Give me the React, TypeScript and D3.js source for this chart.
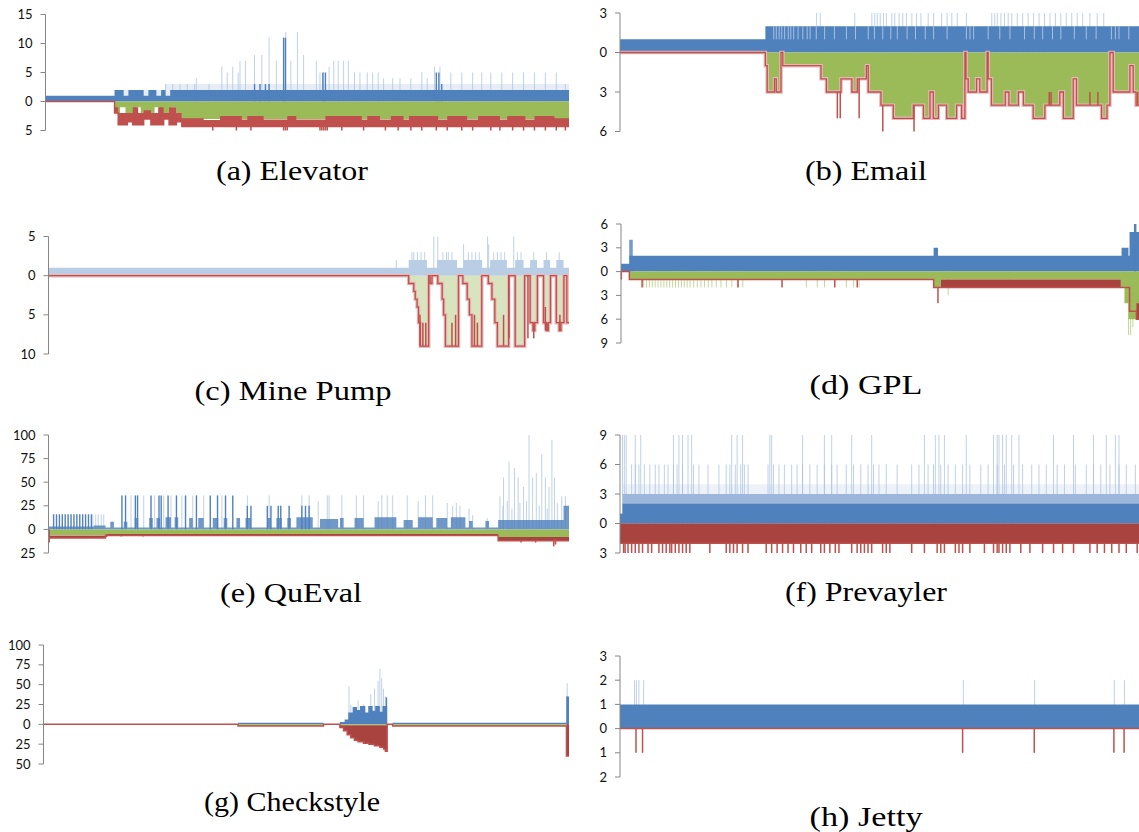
import React from "react";
import * as d3 from "d3";

type Step = [number, number][];
type Band = [number, number, number][];

// x positions are execution steps along each run, y values are counts
// (negative side is drawn downward and labelled with its absolute value)

// (a) Elevator
const elevatorSteps = 1440;
const elevatorTicks = [15, 10, 5, 0, -5];
const elevatorBlue: Step = [[0, 1], [190, 2], [215, 1], [228, 2], [270, 1], [283, 2], [305, 1], [318, 2], [330, 1], [343, 2]];
const elevatorHaze: Step = [[0, 0], [190, 2], [330, 3]];
const elevatorLight: Step = [[330, 3], [350, 3], [370, 3], [390, 3], [410, 3], [415, 4], [450, 3], [485, 6], [500, 5], [515, 6], [530, 5], [535, 7], [550, 7], [575, 8], [595, 8], [615, 11], [635, 7], [655, 11], [661, 12], [675, 7], [693, 12], [710, 8], [745, 7], [755, 5], [765, 5], [780, 6], [793, 7], [805, 7], [820, 7], [833, 7], [850, 5], [865, 5], [885, 5], [900, 5], [915, 5], [930, 4], [955, 4], [975, 4], [1005, 4], [1035, 5], [1050, 4], [1070, 6], [1085, 6], [1115, 5], [1145, 5], [1175, 5], [1200, 5], [1225, 5], [1255, 5], [1285, 5], [1315, 5], [1345, 5], [1375, 5], [1405, 5], [1430, 3]];
const elevatorMid: Step = [[575, 3], [590, 3], [605, 3], [615, 3], [655, 11], [660, 11], [763, 5], [770, 5], [1075, 5], [1082, 5], [1090, 3]];
const elevatorGreen: Step = [[0, 0], [190, 2], [205, 1], [220, 2], [250, 1], [262, 2], [300, 1], [312, 2], [345, 1], [360, 2], [375, 3]];
const elevatorRed: Band = [[0, 0, 0], [190, 1, 2], [200, 2, 4], [225, 2, 3.5], [240, 1, 4], [255, 2, 4], [270, 1.5, 3], [290, 2, 4], [310, 1, 4], [325, 2, 3], [340, 1, 4], [360, 2, 3.5], [375, 2.9, 4.3], [435, 3.2, 4.3], [480, 2.5, 4.3], [540, 3.1, 4.3], [555, 2.5, 4.3], [600, 3.1, 4.3], [665, 2.5, 4.3], [690, 3.1, 4.3], [770, 2.5, 4.3], [870, 3.1, 4.3], [885, 2.5, 4.3], [920, 3.1, 4.3], [950, 2.5, 4.3], [985, 3.1, 4.3], [1000, 2.5, 4.3], [1080, 3.1, 4.3], [1105, 2.5, 4.3], [1160, 3.1, 4.3], [1190, 2.5, 4.3], [1250, 3.1, 4.3], [1270, 2.5, 4.3], [1320, 3.1, 4.3], [1345, 2.5, 4.3], [1400, 2.9, 4.3]];
const elevatorRedSpikes: Band = [[460, 4, 5], [525, 4, 5], [565, 4, 5], [655, 4, 5], [660, 4, 5], [665, 4, 5], [755, 4, 5], [760, 4, 5], [765, 4, 5], [770, 4, 5], [775, 4, 5], [815, 4, 5], [875, 4, 5], [935, 4, 5], [970, 4, 5], [1005, 4, 5], [1035, 4, 5], [1075, 4, 5], [1105, 4, 5], [1145, 4, 5], [1175, 4, 5], [1225, 4, 5], [1250, 4, 5], [1285, 4, 5], [1315, 4, 5], [1345, 4, 5], [1375, 4, 5], [1405, 4, 5], [1430, 4, 5]];

// (b) Email
const emailSteps = 1428;
const emailTicks = [3, 0, -3, -6];
const emailBlue: Step = [[0, 1], [400, 2]];
const emailLight: Step = [[541, 3], [551, 3], [646, 3], [693, 3], [701, 3], [708, 3], [716, 3], [725, 3], [733, 3], [748, 3], [756, 3], [768, 3], [778, 3], [788, 3], [803, 3], [816, 3], [828, 3], [848, 3], [863, 3], [885, 3], [900, 3], [913, 3], [928, 3], [953, 3], [1023, 3], [1031, 3], [1038, 3], [1048, 3], [1058, 3], [1068, 3], [1078, 3], [1093, 3], [1108, 3], [1123, 3], [1138, 3], [1153, 3], [1168, 3], [1183, 3], [1198, 3], [1213, 3], [1228, 3], [1243, 3], [1258, 3], [1273, 3], [1293, 3], [1313, 3], [1331, 3]];
const emailGaps = [423, 430, 438, 445, 453, 463, 470, 478, 490, 503, 515, 523, 540, 563, 590, 623, 648, 683, 700, 723, 745, 763, 790, 813, 840, 863, 900, 953, 963, 973, 1013, 1045, 1073, 1113, 1140, 1163, 1190, 1213, 1250, 1283, 1310, 1352, 1363, 1373, 1400];
const emailDepth: Step = [[0, 0], [400, 1], [405, 3], [425, 2], [430, 3], [443, 0], [448, 1], [553, 2], [568, 3], [608, 2], [638, 3], [653, 2], [678, 1], [683, 3], [718, 4], [752, 5], [807, 4], [835, 5], [853, 3], [862, 5], [876, 4], [899, 5], [926, 4], [940, 5], [949, 0], [952, 2], [958, 3], [981, 2], [990, 3], [1010, 0], [1013, 2], [1022, 4], [1060, 3], [1070, 4], [1096, 3], [1110, 4], [1137, 5], [1169, 4], [1210, 3], [1220, 5], [1247, 2], [1256, 4], [1325, 5], [1340, 4], [1348, 0], [1357, 3], [1403, 1], [1412, 3], [1420, 4]];
const emailRedSpikes: Band = [[598, 3, 5], [606, 3, 5], [658, 2, 5], [723, 4, 6], [809, 4, 6], [1181, 3, 4], [1186, 3, 4], [1293, 3, 4], [1315, 3, 4], [1424, 3, 4]];

// (c) Mine Pump
const minePumpSteps = 1432;
const minePumpTicks = [5, 0, -5, -10];
const minePumpBlue: Step = [[0, 1], [991, 2], [1041, 1], [1069, 2], [1124, 1], [1142, 2], [1193, 1], [1215, 2], [1261, 1], [1284, 2], [1307, 1], [1325, 2], [1344, 1], [1362, 2], [1380, 1], [1397, 2], [1417, 1]];
const minePumpLight: Step = [[957, 2], [1000, 3], [1005, 3], [1015, 3], [1025, 3], [1035, 3], [1060, 5], [1071, 5], [1085, 3], [1095, 3], [1100, 3], [1110, 3], [1142, 4], [1155, 3], [1165, 3], [1175, 3], [1185, 3], [1208, 5], [1211, 4], [1225, 3], [1235, 3], [1245, 3], [1255, 3], [1280, 5], [1290, 3], [1300, 3], [1335, 3], [1370, 3], [1405, 3]];
const minePumpDepth: Step = [[0, 0], [991, 1], [1005, 2], [1009, 3], [1014, 4], [1018, 6], [1023, 9], [1046, 0], [1050, 1], [1055, 0], [1071, 1], [1083, 3], [1087, 5], [1092, 9], [1128, 0], [1140, 1], [1152, 3], [1158, 5], [1165, 9], [1192, 0], [1210, 1], [1220, 3], [1228, 6], [1235, 9], [1266, 0], [1284, 9], [1310, 0], [1325, 6], [1333, 7], [1338, 6], [1345, 0], [1362, 6], [1370, 7], [1375, 6], [1381, 0], [1397, 6], [1405, 7], [1410, 6], [1418, 0], [1426, 6]];
const minePumpRedSpikes: Band = [[1022, 5, 9], [1030, 6, 9], [1038, 6, 9], [1110, 6, 9], [1120, 5, 9], [1172, 5, 9], [1180, 6, 9], [1252, 5, 9], [1267, 0, 8], [1319, 0, 8], [1335, 6, 8], [1367, 4, 7], [1374, 6, 7], [1407, 5, 7]];

// (d) GPL
const gplSteps = 1425;
const gplTicks = [6, 3, 0, -3, -6, -9];
const gplBlue: Step = [[0, 1], [23, 2], [860, 3], [872, 2], [1377, 3], [1396, 2], [1399, 5]];
const gplMid: Step = [[25, 4], [30, 4], [1413, 6], [1416, 6]];
const gplPaleGreen: Step = [[62, 2], [70, 2], [78, 2], [86, 2], [94, 2], [102, 2], [110, 2], [118, 2], [126, 2], [134, 2], [142, 2], [150, 2], [158, 2], [166, 2], [174, 2], [182, 2], [190, 2], [200, 2], [210, 2], [220, 2], [230, 2], [240, 2], [250, 2], [262, 2], [275, 2], [290, 2], [305, 2], [320, 2], [335, 2], [510, 2], [540, 2], [560, 2], [620, 2], [640, 2], [655, 2], [900, 3], [1070, 2], [1396, 8], [1402, 8], [1408, 7]];
const gplGreen: Step = [[0, 0], [23, 1], [860, 2], [880, 1], [1375, 2], [1385, 4], [1396, 6]];
const gplRed: Band = [[0, 0, 0], [23, 1, 1], [860, 2, 2], [880, 1, 2], [1375, 2, 2], [1399, 5, 5], [1418, 4, 6]];
const gplRedSpikes: Band = [[1, 0, 1], [58, 1, 2], [322, 1, 2], [443, 1, 2], [588, 1, 2], [650, 1, 2], [872, 2, 4]];

// (e) QuEval
const quevalSteps = 1432;
const quevalTicks = [100, 75, 50, 25, 0, -25];
const quevalBlue: Step = [[0, 3], [125, 4], [157, 2], [170, 8], [180, 2], [207, 8], [217, 2], [237, 12], [247, 2], [277, 12], [287, 2], [297, 12], [307, 2], [322, 13], [337, 2], [347, 13], [357, 2], [387, 12], [397, 2], [412, 12], [427, 2], [452, 12], [467, 2], [482, 12], [492, 2], [517, 12], [527, 2], [542, 12], [557, 2], [602, 12], [612, 2], [627, 12], [642, 2], [657, 12], [667, 2], [682, 13], [727, 2], [747, 11], [797, 2], [802, 12], [812, 2], [842, 12], [867, 2], [897, 13], [957, 2], [977, 10], [1002, 2], [1017, 13], [1057, 2], [1067, 12], [1097, 2], [1107, 13], [1147, 2], [1157, 9], [1167, 2], [1202, 9], [1212, 2], [1237, 10], [1417, 25]];
const quevalMid: Step = [[14, 16], [22, 16], [30, 16], [38, 16], [46, 16], [54, 16], [62, 16], [70, 16], [78, 16], [86, 16], [94, 16], [102, 16], [110, 16], [118, 16], [202, 36], [212, 36], [239, 36], [245, 36], [282, 36], [304, 36], [310, 36], [329, 36], [352, 36], [377, 36], [407, 36], [445, 36], [465, 36], [487, 36], [507, 36], [547, 25], [557, 25], [602, 25], [612, 25], [632, 25], [639, 25], [662, 25], [697, 25], [707, 25], [717, 25]];
const quevalLight: Step = [[122, 16], [130, 16], [137, 16], [145, 16], [152, 16], [227, 36], [262, 36], [292, 36], [317, 36], [337, 36], [367, 36], [397, 36], [427, 36], [477, 36], [547, 36], [607, 36], [697, 36], [717, 36], [742, 30], [767, 36], [772, 36], [807, 36], [847, 36], [867, 36], [907, 30], [917, 36], [932, 36], [947, 36], [987, 36], [1017, 30], [1037, 36], [1057, 36], [1097, 28], [1112, 25], [1122, 28], [1132, 25], [1157, 22], [1167, 15], [1207, 12], [1242, 35], [1250, 25], [1252, 55], [1262, 30], [1267, 72], [1275, 22], [1282, 65], [1292, 55], [1297, 28], [1307, 45], [1315, 30], [1322, 100], [1332, 55], [1342, 60], [1350, 25], [1357, 80], [1367, 55], [1372, 22], [1377, 45], [1385, 95], [1392, 55], [1400, 28], [1412, 35], [1422, 35]];
const quevalGreen: Step = [[0, 6], [157, 5], [1237, 8]];
const quevalRed: Band = [[0, 6.5, 9], [157, 5, 6.5], [1237, 8, 12]];
const quevalRedSpikes: Band = [[2, 0, 14], [160, 5, 8], [200, 6, 7.5], [260, 6, 7.5], [340, 6, 7], [420, 6, 7], [520, 6, 7], [600, 6, 7], [700, 6, 7], [800, 6, 7], [900, 6, 7], [1000, 6, 7], [1100, 6, 7], [1200, 6, 7], [1300, 11, 14], [1340, 11, 14], [1390, 10, 18], [1395, 10, 16]];

// (f) Prevayler
const prevaylerSteps = 1427;
const prevaylerTicks = [9, 6, 3, 0, -3];
const prevaylerBlue: Step = [[0, 1], [7, 2]];
const prevaylerMidBand: Step = [[0, 1], [7, 3]];
const prevaylerLightBand: Step = [[0, 1], [7, 4]];
const prevaylerHigh = [7, 12, 17, 42, 57, 147, 162, 172, 187, 197, 307, 322, 337, 412, 417, 502, 562, 582, 637, 692, 837, 867, 877, 892, 952, 1027, 1037, 1042, 1052, 1062, 1077, 1097, 1192, 1247, 1302, 1337, 1362, 1372];
const prevaylerMedium = [32, 42, 52, 67, 82, 97, 107, 122, 132, 147, 157, 172, 202, 217, 242, 272, 292, 302, 317, 332, 342, 352, 407, 422, 437, 452, 472, 487, 502, 522, 542, 562, 582, 597, 622, 642, 662, 682, 697, 712, 732, 762, 802, 822, 847, 862, 882, 902, 922, 942, 962, 992, 1012, 1037, 1057, 1082, 1107, 1132, 1152, 1172, 1202, 1222, 1252, 1282, 1302, 1322, 1347, 1372, 1392, 1417];
const prevaylerRedTips = [10, 14, 22, 32, 42, 52, 62, 77, 87, 107, 117, 127, 137, 142, 152, 162, 172, 182, 192, 247, 292, 302, 312, 322, 337, 352, 402, 417, 432, 447, 462, 477, 497, 512, 527, 552, 562, 577, 592, 602, 637, 652, 662, 672, 682, 692, 722, 732, 742, 802, 837, 872, 882, 892, 922, 932, 942, 962, 1002, 1027, 1037, 1042, 1052, 1062, 1072, 1102, 1127, 1162, 1192, 1217, 1247, 1292, 1312, 1332, 1352, 1372, 1392, 1422];
const prevaylerRed: Band = [[0, 0, 2]];

// (g) Checkstyle
const checkstyleSteps = 1445;
const checkstyleTicks = [100, 75, 50, 25, 0, -25, -50];
const checkstyleBlue: Step = [[0, 0], [535, 2], [770, 0], [815, 3], [828, 6], [838, 15], [850, 22], [862, 18], [870, 23], [885, 15], [893, 23], [905, 17], [912, 23], [925, 16], [932, 23], [945, 0], [960, 2], [1438, 35]];
const checkstyleLight: Step = [[840, 48], [845, 25], [865, 30], [880, 25], [900, 38], [910, 45], [920, 55], [925, 70], [930, 58], [935, 45], [940, 35], [943, 33], [1440, 52]];
const checkstyleMid: Step = [[943, 34], [1440, 35]];
const checkstyleGreen: Step = [[0, 0], [535, 2], [770, 0], [815, 1], [945, 0], [960, 2], [1438, 0]];
const checkstyleRed: Band = [[0, 0, 0], [535, 2, 2], [770, 0, 0], [815, 1, 4], [825, 1, 8], [835, 1, 13], [845, 1, 17], [855, 1, 20], [865, 1, 22], [880, 1, 24], [895, 1, 25], [910, 1, 27], [925, 1, 29], [935, 1, 31], [940, 1, 34], [945, 0, 0], [960, 2, 2], [1438, 0, 40]];

// (h) Jetty
const jettySteps = 1427;
const jettyTicks = [3, 2, 1, 0, -1, -2];
const jettyBlue: Step = [[0, 1]];
const jettyLight: Step = [[40, 2], [45, 2], [52, 2], [65, 2], [944, 2], [1140, 2], [1359, 2], [1387, 2]];
const jettyRed: Band = [[0, 0, 0]];
const jettyRedSpikes: Band = [[44, 0, 1], [62, 0, 1], [942, 0, 1], [1139, 0, 1], [1358, 0, 1], [1386, 0, 1]];

const BLUE = "#4f81bd";
const PALE_BLUE = "#b9cde5";
const LIGHT_LINE = "#a9c1e0";
const GREEN = "#9bbb59";
const PALE_GREEN = "#d7e4bd";
const RED = "#c0504d";
const DARK_RED = "#a9433f";
const HALO = "#e6b9b8";

interface PanelSpec {
  caption: string;
  captionWidth: number;
  cx: number; cy: number;
  left: number; right: number;
  yMax: number; yMin: number; top: number; bottom: number;
  ticks: number[];
  steps: number;
  blue: Step;
  blueColor?: string;
  blueOpacity?: number;
  lightBand?: Step;
  lightBandColor?: string;
  midBand?: Step;
  light?: Step;
  mid?: Step;
  gaps?: number[];
  paleGreen?: Step;
  green?: Step;
  greenColor?: string;
  red?: Band;
  redColor?: string;
  outline?: boolean;
  redSpikes?: Band;
}

const panels: PanelSpec[] = [
  {
    caption: "(a) Elevator", captionWidth: 152, cx: 292, cy: 180, left: 45.5, right: 569, yMax: 15, yMin: -5, top: 14.5, bottom: 130.5,
    ticks: elevatorTicks, steps: elevatorSteps, blue: elevatorBlue, lightBand: elevatorHaze, lightBandColor: "#e6edf6",
    light: elevatorLight, mid: elevatorMid, green: elevatorGreen, red: elevatorRed, redSpikes: elevatorRedSpikes,
  },
  {
    caption: "(b) Email", captionWidth: 122, cx: 866, cy: 180, left: 620, right: 1139, yMax: 3, yMin: -6, top: 13, bottom: 131.5,
    ticks: emailTicks, steps: emailSteps, blue: emailBlue, light: emailLight, gaps: emailGaps,
    green: emailDepth, outline: true, redSpikes: emailRedSpikes,
  },
  {
    caption: "(c) Mine Pump", captionWidth: 197, cx: 293, cy: 400, left: 48.5, right: 569, yMax: 5, yMin: -10, top: 236.5, bottom: 354,
    ticks: minePumpTicks, steps: minePumpSteps, blue: minePumpBlue, blueColor: PALE_BLUE, light: minePumpLight,
    green: minePumpDepth, greenColor: PALE_GREEN, outline: true, redSpikes: minePumpRedSpikes,
  },
  {
    caption: "(d) GPL", captionWidth: 113, cx: 866, cy: 394, left: 621, right: 1139, yMax: 6, yMin: -9, top: 224, bottom: 343,
    ticks: gplTicks, steps: gplSteps, blue: gplBlue, mid: gplMid, paleGreen: gplPaleGreen,
    green: gplGreen, red: gplRed, redColor: DARK_RED, redSpikes: gplRedSpikes,
  },
  {
    caption: "(e) QuEval", captionWidth: 142, cx: 291, cy: 602, left: 48.5, right: 569, yMax: 100, yMin: -25, top: 435, bottom: 553,
    ticks: quevalTicks, steps: quevalSteps, blue: quevalBlue, blueOpacity: 0.82, light: quevalLight, mid: quevalMid,
    green: quevalGreen, red: quevalRed, redColor: DARK_RED, redSpikes: quevalRedSpikes,
  },
  {
    caption: "(f) Prevayler", captionWidth: 162, cx: 866, cy: 601, left: 620, right: 1139, yMax: 9, yMin: -3, top: 435, bottom: 553,
    ticks: prevaylerTicks, steps: prevaylerSteps, blue: prevaylerBlue,
    lightBand: prevaylerLightBand, lightBandColor: "#edf2f9", midBand: prevaylerMidBand,
    light: [...prevaylerHigh.map((v) => [v, 9] as [number, number]), ...prevaylerMedium.map((v) => [v, 6] as [number, number])],
    red: prevaylerRed, redColor: DARK_RED,
    redSpikes: prevaylerRedTips.map((v) => [v, 2, 3] as [number, number, number]),
  },
  {
    caption: "(g) Checkstyle", captionWidth: 176, cx: 292, cy: 811, left: 43.5, right: 569, yMax: 100, yMin: -50, top: 645, bottom: 764,
    ticks: checkstyleTicks, steps: checkstyleSteps, blue: checkstyleBlue, light: checkstyleLight, mid: checkstyleMid,
    green: checkstyleGreen, red: checkstyleRed, redColor: DARK_RED,
  },
  {
    caption: "(h) Jetty", captionWidth: 113, cx: 866, cy: 826, left: 620, right: 1139, yMax: 3, yMin: -2, top: 656, bottom: 777,
    ticks: jettyTicks, steps: jettySteps, blue: jettyBlue, light: jettyLight,
    red: jettyRed, redSpikes: jettyRedSpikes,
  },
];

function Panel({ p }: { p: PanelSpec }) {
  const x = d3.scaleLinear().domain([0, p.steps]).range([p.left, p.right]);
  const y = d3.scaleLinear().domain([p.yMax, p.yMin]).range([p.top, p.bottom]);

  const close = (s: Step): Step => [...s, [p.steps, s[s.length - 1][1]]];
  const closeB = (s: Band): Band => [...s, [p.steps, s[s.length - 1][1], s[s.length - 1][2]]];

  const up = d3.area<[number, number]>().x((d) => x(d[0])).y0(y(0)).y1((d) => y(d[1])).curve(d3.curveStepAfter);
  const down = d3.area<[number, number]>().x((d) => x(d[0])).y0(y(0)).y1((d) => y(-d[1])).curve(d3.curveStepAfter);
  const downLine = d3.line<[number, number]>().x((d) => x(d[0])).y((d) => y(-d[1])).curve(d3.curveStepAfter);
  const band = d3.area<[number, number, number]>().x((d) => x(d[0])).y0((d) => y(-d[1])).y1((d) => y(-d[2])).curve(d3.curveStepAfter);
  const bandLine = d3.line<[number, number, number]>().x((d) => x(d[0])).y((d) => y(-d[2])).curve(d3.curveStepAfter);

  const redColor = p.redColor || RED;

  return (
    <g>
      {p.lightBand && <path d={up(close(p.lightBand)) || ""} fill={p.lightBandColor || "#dbe5f1"} />}
      {p.light && p.light.map((d, i) => (
        <line key={"l" + i} x1={x(d[0])} x2={x(d[0])} y1={y(0)} y2={y(d[1])} stroke={LIGHT_LINE} strokeWidth={1} strokeOpacity={0.75} />
      ))}
      {p.midBand && <path d={up(close(p.midBand)) || ""} fill="#9db7dc" />}
      <path d={up(close(p.blue)) || ""} fill={p.blueColor || BLUE} fillOpacity={p.blueOpacity || 1} />
      {p.gaps && p.gaps.map((g, i) => (
        <line key={"g" + i} x1={x(g)} x2={x(g)} y1={y(1)} y2={y(2)} stroke="#a7c0e1" strokeWidth={1} />
      ))}
      {p.mid && p.mid.map((d, i) => (
        <line key={"m" + i} x1={x(d[0])} x2={x(d[0])} y1={y(0)} y2={y(d[1])} stroke={BLUE} strokeWidth={1.4} />
      ))}
      {p.paleGreen && p.paleGreen.map((d, i) => (
        <line key={"p" + i} x1={x(d[0])} x2={x(d[0])} y1={y(0)} y2={y(-d[1])} stroke="#c4d79b" strokeWidth={1} />
      ))}
      {p.green && <path d={down(close(p.green)) || ""} fill={p.greenColor || GREEN} />}
      {p.outline && p.green && (
        <g fill="none">
          <path d={downLine(close(p.green)) || ""} stroke={HALO} strokeWidth={3.5} />
          <path d={downLine(close(p.green)) || ""} stroke={RED} strokeWidth={1.3} />
        </g>
      )}
      {p.red && (
        <g>
          <path d={band(closeB(p.red)) || ""} fill={redColor} />
          <path d={bandLine(closeB(p.red)) || ""} fill="none" stroke={RED} strokeWidth={1.5} />
        </g>
      )}
      {p.redSpikes && p.redSpikes.map((d, i) => (
        <line key={"r" + i} x1={x(d[0])} x2={x(d[0])} y1={y(-d[1])} y2={y(-d[2])} stroke={RED} strokeWidth={1.5} />
      ))}
      <line x1={p.left} x2={p.left} y1={p.top} y2={p.bottom} stroke="#868686" strokeWidth={1} />
      {p.ticks.map((t) => (
        <g key={t}>
          <line x1={p.left - 5} x2={p.left} y1={y(t)} y2={y(t)} stroke="#868686" strokeWidth={1} />
          <text x={p.left - 13} y={y(t)} dy="0.35em" textAnchor="end" fontFamily="Lato, 'Open Sans', sans-serif" fontSize={13} fill="#111">
            {Math.abs(t)}
          </text>
        </g>
      ))}
      <text x={p.cx} y={p.cy} textAnchor="middle" fontFamily="'Liberation Serif', 'DejaVu Serif', serif" fontSize={27}
        textLength={p.captionWidth} lengthAdjust="spacingAndGlyphs" fill="#000">
        {p.caption}
      </text>
    </g>
  );
}

export default function App() {
  return (
    <svg width={1139} height={832} style={{ position: "absolute", left: 0, top: 0, background: "#fff" }}>
      <rect width={1139} height={832} fill="#fff" />
      {panels.map((p) => (
        <Panel key={p.caption} p={p} />
      ))}
    </svg>
  );
}
